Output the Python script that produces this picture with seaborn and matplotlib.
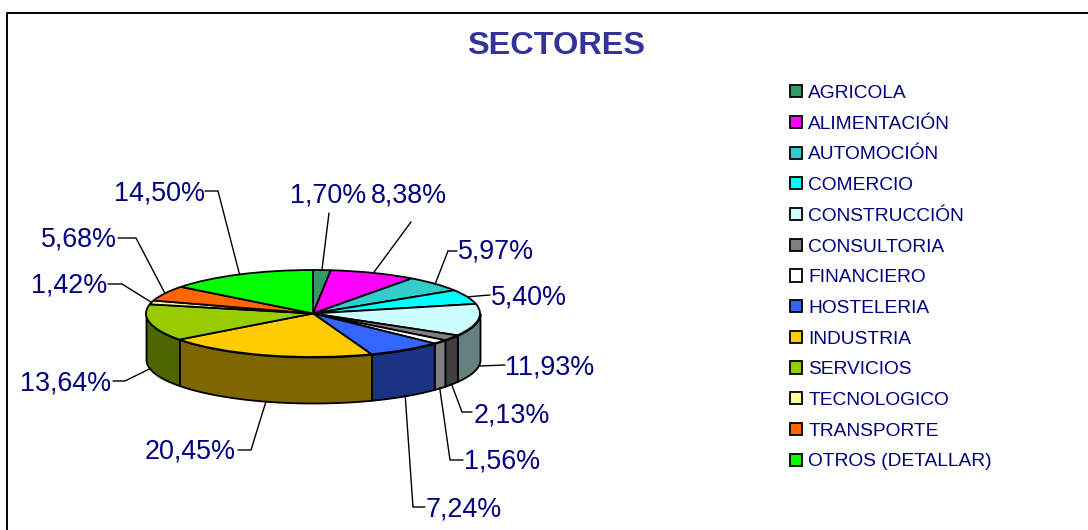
import numpy as np
import seaborn as sns
import matplotlib
matplotlib.use("Agg")
import matplotlib.pyplot as plt
from matplotlib.patches import Patch

# data
sectores = ["AGRICOLA", "ALIMENTACIÓN", "AUTOMOCIÓN", "COMERCIO", "CONSTRUCCIÓN", "CONSULTORIA",
            "FINANCIERO", "HOSTELERIA", "INDUSTRIA", "SERVICIOS", "TECNOLOGICO", "TRANSPORTE",
            "OTROS (DETALLAR)"]
porcentajes = [1.70, 8.38, 5.97, 5.40, 11.93, 2.13, 1.56, 7.24, 20.45, 13.64, 1.42, 5.68, 14.50]
colores = ["#339966", "#FF00FF", "#33CCCC", "#00FFFF", "#CCFFFF", "#808080", "#FFFFFF",
           "#3366FF", "#FFCC00", "#99CC00", "#FFFF99", "#FF6600", "#00FF00"]

sns.set_theme(style="white")
plt.rcParams["font.family"] = ["Liberation Sans", "DejaVu Sans"]

W, H = 1088, 530
NAVY = "#000080"
palette = sns.color_palette(colores)
# side wall of the 3d pie is the same colour at half brightness
oscuros = [tuple(np.array(c) * 0.5) for c in palette]

# pie geometry in pixels
cx, cy, rx, ry, depth = 313, 313.5, 167, 43.5, 46

fig = plt.figure(figsize=(W / 100, H / 100), dpi=100, facecolor="white")
ax = fig.add_axes([(cx - rx) / W, (H - cy - ry - depth) / H, 2 * rx / W, (2 * ry + depth) / H])
wedges, _ = ax.pie(porcentajes, colors=palette, startangle=90, counterclock=False,
                   wedgeprops={"edgecolor": "black", "linewidth": 1.3, "clip_on": False, "zorder": 3})
ax.set_aspect("auto")
ax.set_xlim(-1, 1)
ax.set_ylim(-1 - depth / ry, 1)
ax.axis("off")

# front side walls, only the part of each slice facing the viewer
for w, c in zip(wedges, oscuros):
    t1, t2 = max(w.theta1, -180), min(w.theta2, 0)
    if t2 <= t1:
        continue
    t = np.radians(np.linspace(t1, t2, 60))
    ax.fill_between(np.cos(t), np.sin(t), np.sin(t) - depth / ry, facecolor=c, edgecolor="black",
                    linewidth=1.3, clip_on=False, zorder=2)

# overlay in pixel coordinates for frame, title, labels and legend
over = fig.add_axes([0, 0, 1, 1], facecolor="none")
over.set_xlim(0, W)
over.set_ylim(H, 0)
over.axis("off")

over.plot([6.5, 6.5, W], [H, 13, 13], color="black", lw=1.4, clip_on=False)
over.text(556.5, 46, "SECTORES", color="#333399", fontsize=23.4, fontweight="bold", ha="center", va="center")

# label text (left, centre y) and leader elbow points
etiquetas = ["1,70%", "8,38%", "5,97%", "5,40%", "11,93%", "2,13%", "1,56%", "7,24%", "20,45%",
             "13,64%", "1,42%", "5,68%", "14,50%"]
pos_texto = [(290, 195), (371, 195), (458, 251), (491, 297), (505, 367), (474, 415), (464, 462),
             (426, 509), (145, 452), (20, 383), (31, 286), (41, 240), (114, 193)]
codos = [[(329, 213)], [(411, 222)], [(448, 251), (457, 251)], [(490, 295)], [(505, 365)],
         [(462, 412), (472, 412)], [(450, 460), (463, 460)], [(413, 507), (425, 507)],
         [(251, 450), (238, 450)], [(125, 381), (113, 381)], [(122, 284), (108, 284)],
         [(136, 238), (118, 238)], [(218, 191), (205, 191)]]

for w, txt, pos, codo in zip(wedges, etiquetas, pos_texto, codos):
    a = np.radians((w.theta1 + w.theta2) / 2)
    y0 = cy - ry * np.sin(a)
    if np.sin(a) < 0:
        y0 += depth
    xs = [cx + rx * np.cos(a)] + [p[0] for p in codo]
    ys = [y0] + [p[1] for p in codo]
    over.plot(xs, ys, color="black", lw=1.0, solid_joinstyle="miter")
    over.text(pos[0], pos[1], txt, color=NAVY, fontsize=19.4, ha="left", va="center")

handles = [Patch(facecolor=c, edgecolor="black", linewidth=1.3, label=s) for c, s in zip(palette, sectores)]
fig.legend(handles=handles, loc="upper left", bbox_to_anchor=(790 / W, 1 - 85 / H), frameon=False,
           fontsize=13.8, labelcolor=NAVY, handlelength=0.6, handleheight=0.6, handletextpad=0.35,
           labelspacing=0.715, borderpad=0, borderaxespad=0)

fig.savefig("out.png", dpi=100)
